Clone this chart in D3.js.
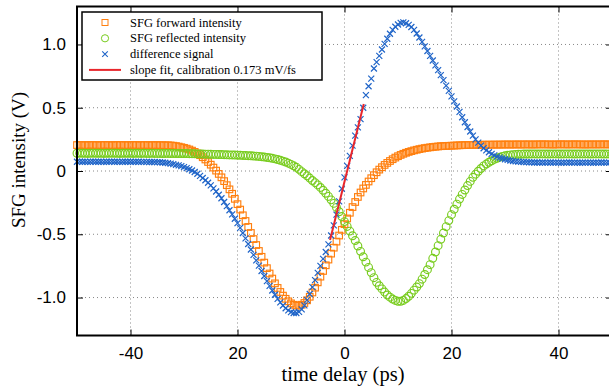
<!DOCTYPE html>
<html>
<head>
<meta charset="utf-8">
<script src="https://cdn.jsdelivr.net/npm/d3@7"></script>
<style>
  body { margin: 0; background: #fff; }
  svg { display: block; font-family: "Liberation Serif", "DejaVu Serif", serif; }
</style>
</head>
<body>
<div id="chart"></div>
<script>
// time delay grid (ps)
const delays = [
  -50, -49.5, -49, -48.5, -48, -47.5, -47, -46.5, -46, -45.5,
  -45, -44.5, -44, -43.5, -43, -42.5, -42, -41.5, -41, -40.5,
  -40, -39.5, -39, -38.5, -38, -37.5, -37, -36.5, -36, -35.5,
  -35, -34.5, -34, -33.5, -33, -32.5, -32, -31.5, -31, -30.5,
  -30, -29.5, -29, -28.5, -28, -27.5, -27, -26.5, -26, -25.5,
  -25, -24.5, -24, -23.5, -23, -22.5, -22, -21.5, -21, -20.5,
  -20, -19.5, -19, -18.5, -18, -17.5, -17, -16.5, -16, -15.5,
  -15, -14.5, -14, -13.5, -13, -12.5, -12, -11.5, -11, -10.5,
  -10, -9.5, -9, -8.5, -8, -7.5, -7, -6.5, -6, -5.5,
  -5, -4.5, -4, -3.5, -3, -2.5, -2, -1.5, -1, -0.5,
  0, 0.5, 1, 1.5, 2, 2.5, 3, 3.5, 4, 4.5,
  5, 5.5, 6, 6.5, 7, 7.5, 8, 8.5, 9, 9.5,
  10, 10.5, 11, 11.5, 12, 12.5, 13, 13.5, 14, 14.5,
  15, 15.5, 16, 16.5, 17, 17.5, 18, 18.5, 19, 19.5,
  20, 20.5, 21, 21.5, 22, 22.5, 23, 23.5, 24, 24.5,
  25, 25.5, 26, 26.5, 27, 27.5, 28, 28.5, 29, 29.5,
  30, 30.5, 31, 31.5, 32, 32.5, 33, 33.5, 34, 34.5,
  35, 35.5, 36, 36.5, 37, 37.5, 38, 38.5, 39, 39.5,
  40, 40.5, 41, 41.5, 42, 42.5, 43, 43.5, 44, 44.5,
  45, 45.5, 46, 46.5, 47, 47.5, 48, 48.5, 49, 49.5,
  50
];

// SFG forward intensity (V)
const forward = [
  0.205, 0.206, 0.205, 0.204, 0.205, 0.206, 0.205, 0.205, 0.204, 0.205,
  0.206, 0.205, 0.205, 0.204, 0.205, 0.205, 0.206, 0.205, 0.204, 0.205,
  0.205, 0.206, 0.205, 0.204, 0.205, 0.205, 0.205, 0.204, 0.205, 0.204,
  0.205, 0.204, 0.204, 0.203, 0.203, 0.202, 0.2, 0.197, 0.193, 0.188,
  0.183, 0.177, 0.17, 0.161, 0.151, 0.139, 0.125, 0.109, 0.091, 0.071,
  0.05, 0.027, 0.003, -0.023, -0.05, -0.08, -0.112, -0.145, -0.18, -0.22,
  -0.262, -0.305, -0.35, -0.395, -0.442, -0.49, -0.538, -0.585, -0.632, -0.678,
  -0.724, -0.768, -0.81, -0.85, -0.888, -0.924, -0.956, -0.985, -1.01, -1.03,
  -1.046, -1.057, -1.063, -1.064, -1.057, -1.043, -1.022, -0.994, -0.96, -0.922,
  -0.88, -0.835, -0.79, -0.745, -0.7, -0.653, -0.606, -0.558, -0.51, -0.465,
  -0.42, -0.375, -0.33, -0.285, -0.245, -0.205, -0.17, -0.138, -0.11, -0.083,
  -0.057, -0.033, -0.01, 0.011, 0.03, 0.048, 0.064, 0.079, 0.093, 0.106,
  0.117, 0.127, 0.136, 0.144, 0.151, 0.157, 0.163, 0.168, 0.173, 0.177,
  0.181, 0.184, 0.187, 0.19, 0.192, 0.194, 0.196, 0.197, 0.198, 0.199,
  0.2, 0.201, 0.202, 0.203, 0.204, 0.205, 0.205, 0.206, 0.206, 0.207,
  0.207, 0.207, 0.208, 0.208, 0.208, 0.208, 0.209, 0.208, 0.209, 0.209,
  0.209, 0.21, 0.209, 0.209, 0.21, 0.21, 0.209, 0.21, 0.21, 0.21,
  0.209, 0.21, 0.21, 0.21, 0.211, 0.21, 0.21, 0.21, 0.209, 0.21,
  0.21, 0.211, 0.21, 0.21, 0.21, 0.21, 0.211, 0.21, 0.21, 0.21,
  0.209, 0.21, 0.21, 0.21, 0.21, 0.21, 0.21, 0.211, 0.21, 0.21,
  0.21
];

// SFG reflected intensity (V)
const reflected = [
  0.14, 0.141, 0.14, 0.14, 0.139, 0.14, 0.141, 0.14, 0.14, 0.14,
  0.139, 0.14, 0.14, 0.141, 0.14, 0.14, 0.139, 0.14, 0.14, 0.14,
  0.14, 0.139, 0.14, 0.14, 0.139, 0.14, 0.139, 0.139, 0.14, 0.139,
  0.139, 0.139, 0.138, 0.139, 0.139, 0.138, 0.139, 0.138, 0.138, 0.138,
  0.138, 0.138, 0.137, 0.137, 0.136, 0.135, 0.135, 0.134, 0.133, 0.133,
  0.132, 0.131, 0.131, 0.13, 0.13, 0.129, 0.128, 0.127, 0.127, 0.126,
  0.125, 0.124, 0.123, 0.122, 0.121, 0.12, 0.118, 0.117, 0.115, 0.113,
  0.11, 0.107, 0.104, 0.1, 0.096, 0.091, 0.085, 0.078, 0.071, 0.062,
  0.052, 0.041, 0.029, 0.013, -0.005, -0.022, -0.038, -0.056, -0.075, -0.092,
  -0.11, -0.13, -0.152, -0.176, -0.201, -0.228, -0.256, -0.288, -0.322, -0.36,
  -0.4, -0.438, -0.475, -0.512, -0.55, -0.593, -0.635, -0.678, -0.72, -0.762,
  -0.803, -0.843, -0.88, -0.907, -0.932, -0.957, -0.98, -0.997, -1.012, -1.023,
  -1.03, -1.03, -1.023, -1.008, -0.99, -0.967, -0.942, -0.917, -0.89, -0.855,
  -0.818, -0.78, -0.74, -0.69, -0.64, -0.59, -0.54, -0.49, -0.44, -0.392,
  -0.345, -0.302, -0.262, -0.222, -0.185, -0.15, -0.115, -0.082, -0.05, -0.025,
  -0.002, 0.02, 0.04, 0.055, 0.069, 0.081, 0.092, 0.101, 0.109, 0.115,
  0.12, 0.124, 0.127, 0.129, 0.131, 0.132, 0.133, 0.134, 0.134, 0.134,
  0.135, 0.135, 0.134, 0.135, 0.135, 0.135, 0.134, 0.135, 0.135, 0.135,
  0.135, 0.134, 0.135, 0.135, 0.135, 0.135, 0.134, 0.135, 0.135, 0.135,
  0.135, 0.135, 0.134, 0.135, 0.135, 0.135, 0.135, 0.134, 0.135, 0.135,
  0.135
];

// difference signal (V)
const difference = [
  0.073, 0.074, 0.073, 0.073, 0.072, 0.073, 0.074, 0.073, 0.073, 0.073,
  0.072, 0.073, 0.073, 0.074, 0.073, 0.073, 0.072, 0.073, 0.073, 0.073,
  0.073, 0.072, 0.073, 0.073, 0.072, 0.072, 0.072, 0.071, 0.071, 0.071,
  0.07, 0.069, 0.067, 0.065, 0.062, 0.058, 0.054, 0.049, 0.044, 0.038,
  0.031, 0.023, 0.014, 0.004, -0.008, -0.022, -0.038, -0.055, -0.073, -0.093,
  -0.114, -0.137, -0.162, -0.188, -0.215, -0.245, -0.277, -0.31, -0.343, -0.377,
  -0.412, -0.45, -0.49, -0.533, -0.577, -0.62, -0.663, -0.706, -0.748, -0.79,
  -0.83, -0.87, -0.908, -0.944, -0.978, -1.01, -1.038, -1.063, -1.085, -1.102,
  -1.115, -1.122, -1.122, -1.113, -1.093, -1.062, -1.02, -0.972, -0.918, -0.862,
  -0.805, -0.75, -0.695, -0.64, -0.58, -0.51, -0.43, -0.345, -0.24, -0.14,
  -0.05, 0.04, 0.12, 0.2, 0.28, 0.345, 0.41, 0.5, 0.6, 0.67,
  0.73, 0.81, 0.86, 0.91, 0.96, 1.005, 1.045, 1.085, 1.115, 1.14,
  1.158, 1.17, 1.175, 1.168, 1.155, 1.138, 1.115, 1.087, 1.055, 1.02,
  0.985, 0.948, 0.91, 0.873, 0.835, 0.797, 0.758, 0.718, 0.675, 0.633,
  0.59, 0.55, 0.51, 0.467, 0.425, 0.385, 0.348, 0.312, 0.28, 0.25,
  0.224, 0.2, 0.18, 0.163, 0.148, 0.135, 0.124, 0.114, 0.106, 0.099,
  0.093, 0.088, 0.083, 0.079, 0.076, 0.074, 0.072, 0.071, 0.07, 0.069,
  0.068, 0.067, 0.067, 0.066, 0.067, 0.066, 0.066, 0.067, 0.066, 0.066,
  0.066, 0.065, 0.066, 0.066, 0.067, 0.066, 0.066, 0.066, 0.065, 0.066,
  0.066, 0.066, 0.066, 0.065, 0.066, 0.066, 0.067, 0.066, 0.066, 0.066,
  0.066
];

// linear slope fit around zero delay
const fitDelays = [-2.7, 3.6];
const fitValues = [-0.545, 0.53];

const xTicks = [-40, -20, 0, 20, 40];
const xTickLabels = ['-40', '20', '0', '20', '40'];
const yTicks = [-1, -0.5, 0, 0.5, 1];
const yTickLabels = ['-1.0', '-0.5', '0', '0.5', '1.0'];

const legendLabels = [
  'SFG forward intensity',
  'SFG reflected intensity',
  'difference signal',
  'slope fit, calibration 0.173 mV/fs'
];

const colors = { forward: '#ff7f0e', reflected: '#78cc1e', difference: '#1f64c8', fit: '#e8262c' };

const W = 609, H = 386;
const margin = { top: 6.5, right: -3, bottom: 50.5, left: 77 };
const width = W - margin.left - margin.right;
const height = H - margin.top - margin.bottom;

const svg = d3.select('#chart').append('svg')
  .attr('width', W)
  .attr('height', H);

const g = svg.append('g')
  .attr('transform', `translate(${margin.left},${margin.top})`);

const x = d3.scaleLinear().domain([-50, 50]).range([0, width]);
const y = d3.scaleLinear().domain([-1.3, 1.3]).range([height, 0]);

// dotted grid
g.append('g').selectAll('line').data(xTicks).enter().append('line')
  .attr('x1', d => x(d)).attr('x2', d => x(d))
  .attr('y1', 0).attr('y2', height)
  .attr('stroke', '#888').attr('stroke-width', 1)
  .attr('stroke-dasharray', '1,3');

g.append('g').selectAll('line').data(yTicks).enter().append('line')
  .attr('x1', 0).attr('x2', width)
  .attr('y1', d => y(d)).attr('y2', d => y(d))
  .attr('stroke', '#888').attr('stroke-width', 1)
  .attr('stroke-dasharray', '1,3');

const series = delays.map((d, i) => ({ t: d, fw: forward[i], rf: reflected[i], df: difference[i] }));

const plot = g.append('g');
const sq = 3.3, rad = 3.9, cross = 3;

// forward: open squares
plot.append('g').selectAll('rect').data(series).enter().append('rect')
  .attr('x', d => x(d.t) - sq)
  .attr('y', d => y(d.fw) - sq)
  .attr('width', 2 * sq).attr('height', 2 * sq)
  .attr('fill', 'none')
  .attr('stroke', colors.forward)
  .attr('stroke-width', 1.15);

// reflected: open circles
plot.append('g').selectAll('circle').data(series).enter().append('circle')
  .attr('cx', d => x(d.t))
  .attr('cy', d => y(d.rf))
  .attr('r', rad)
  .attr('fill', 'none')
  .attr('stroke', colors.reflected)
  .attr('stroke-width', 1.15);

// difference: crosses
plot.append('g').selectAll('path').data(series).enter().append('path')
  .attr('d', d => {
    const px = x(d.t), py = y(d.df);
    return `M${px - cross},${py - cross}L${px + cross},${py + cross}M${px - cross},${py + cross}L${px + cross},${py - cross}`;
  })
  .attr('stroke', colors.difference)
  .attr('stroke-width', 1.2)
  .attr('fill', 'none');

// slope fit
plot.append('path')
  .datum(fitDelays.map((d, i) => [d, fitValues[i]]))
  .attr('d', d3.line().x(d => x(d[0])).y(d => y(d[1])))
  .attr('stroke', colors.fit)
  .attr('stroke-width', 2)
  .attr('fill', 'none');

// frame
g.append('rect')
  .attr('x', 0).attr('y', 0)
  .attr('width', width).attr('height', height)
  .attr('fill', 'none')
  .attr('stroke', '#000')
  .attr('stroke-width', 2);

// axes with inward ticks
const xAxis = g.append('g')
  .attr('transform', `translate(0,${height})`)
  .call(d3.axisBottom(x).tickValues(xTicks).tickSizeInner(-6).tickSizeOuter(0).tickPadding(11)
    .tickFormat((d, i) => xTickLabels[i]));
xAxis.select('.domain').remove();
xAxis.selectAll('text').style('font-size', '17px').attr('fill', '#000');

const xTop = g.append('g')
  .call(d3.axisTop(x).tickValues(xTicks).tickSizeInner(-6).tickSizeOuter(0).tickFormat(''));
xTop.select('.domain').remove();

const yAxis = g.append('g')
  .call(d3.axisLeft(y).tickValues(yTicks).tickSizeInner(-6).tickSizeOuter(0).tickPadding(11)
    .tickFormat((d, i) => yTickLabels[i]));
yAxis.select('.domain').remove();
yAxis.selectAll('text').style('font-size', '17px').attr('fill', '#000');

const yRight = g.append('g')
  .attr('transform', `translate(${width},0)`)
  .call(d3.axisRight(y).tickValues(yTicks).tickSizeInner(-6).tickSizeOuter(0).tickFormat(''));
yRight.select('.domain').remove();

g.selectAll('.tick line').attr('stroke', '#000').attr('stroke-width', 1);

// axis labels
svg.append('text')
  .attr('x', 343)
  .attr('y', 381)
  .attr('text-anchor', 'middle')
  .style('font-size', '20.5px')
  .text('time delay (ps)');

svg.append('text')
  .attr('transform', 'translate(25,160) rotate(-90)')
  .attr('text-anchor', 'middle')
  .style('font-size', '19px')
  .text('SFG intensity (V)');

// legend
const legend = svg.append('g').attr('transform', 'translate(82,12)');
legend.append('rect')
  .attr('width', 240).attr('height', 68)
  .attr('fill', '#fff')
  .attr('stroke', '#000')
  .attr('stroke-width', 1.5);

const rowY = i => 10.5 + i * 15.8;
const item = legend.selectAll('g.item').data(legendLabels).enter().append('g')
  .attr('class', 'item')
  .attr('transform', (d, i) => `translate(0,${rowY(i)})`);

item.append('text')
  .attr('x', 48)
  .attr('y', 4)
  .style('font-size', '12.5px')
  .text(d => d);

legend.append('rect')
  .attr('x', 20).attr('y', rowY(0) - 3).attr('width', 6).attr('height', 6)
  .attr('fill', 'none').attr('stroke', colors.forward);
legend.append('circle')
  .attr('cx', 23).attr('cy', rowY(1)).attr('r', 3.6)
  .attr('fill', 'none').attr('stroke', colors.reflected);
legend.append('path')
  .attr('d', `M${23 - 2.8},${rowY(2) - 2.8}L${23 + 2.8},${rowY(2) + 2.8}M${23 - 2.8},${rowY(2) + 2.8}L${23 + 2.8},${rowY(2) - 2.8}`)
  .attr('stroke', colors.difference).attr('stroke-width', 1.1);
legend.append('line')
  .attr('x1', 7).attr('x2', 39)
  .attr('y1', rowY(3)).attr('y2', rowY(3))
  .attr('stroke', colors.fit).attr('stroke-width', 2);
</script>
</body>
</html>
